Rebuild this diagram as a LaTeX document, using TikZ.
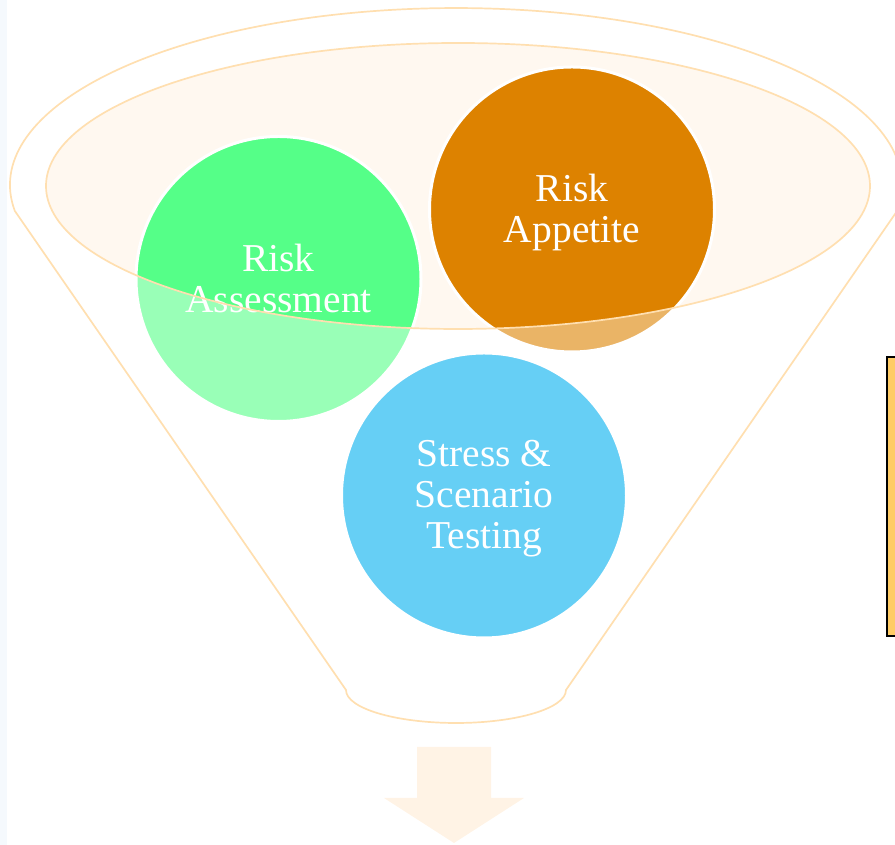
\documentclass[tikz,border=0pt]{standalone}
\usepackage{fontspec}
\setmainfont{Liberation Serif}
\definecolor{funnelline}{HTML}{FFDFB0}
\definecolor{rimfill}{HTML}{FFF8F0}
\definecolor{assessgreen}{HTML}{55FF88}
\definecolor{appetiteorange}{HTML}{DD8200}
\definecolor{stresscyan}{HTML}{00AFEF}
\definecolor{arrowpeach}{HTML}{FFF3E5}
\definecolor{boxyellow}{HTML}{FFCC66}
\definecolor{edgestrip}{HTML}{F5F9FD}
\begin{document}
\begin{tikzpicture}[x=1pt,y=1pt,
  bubble/.style={circle, draw=white, line width=3pt, minimum size=285pt,
    inner sep=0pt},
  bubbletext/.style={text=white, align=center, inner sep=0pt,
    font=\fontsize{39.5}{41}\selectfont},
  outline/.style={draw=funnelline, line width=1.7pt},
  veil/.style={fill=white, fill opacity=0.4, even odd rule}]
\useasboundingbox (0,0) rectangle (895,845);
\clip (0,0) rectangle (895,845);

% faint strip on the left edge
\fill[edgestrip] (0,0) rectangle (7,845);

% mouth of the funnel
\fill[rimfill] (458,659) ellipse [x radius=412, y radius=143];

% the three bubbles
\node[bubble, fill=assessgreen] (assess) at (278.5,566) {};
\node[bubble, fill=appetiteorange] (appetite) at (572,635.5) {};
\node[bubble, fill=stresscyan] (stress) at (484,349.5) {};

\node[bubbletext] (assess-text) at (assess.center) {Risk\\Assessment};
\node[bubbletext] (appetite-text) at ([yshift=-3pt]appetite.center) {Risk\\Appetite};
\node[bubbletext] (stress-text) at ([yshift=-3.5pt]stress.center) {Stress \&\\Scenario\\Testing};

% translucent funnel body with the mouth left open
\fill[veil]
  (14.8,634.1) arc[start angle=188.4, end angle=-8.4, x radius=446, y radius=177]
  -- (566,155) arc[start angle=0, end angle=-180, x radius=110, y radius=33]
  -- cycle
  (458,659) ellipse [x radius=412, y radius=143];

% funnel outlines
\draw[outline]
  (14.8,634.1) arc[start angle=188.4, end angle=-8.4, x radius=446, y radius=177]
  -- (566,155) arc[start angle=0, end angle=-180, x radius=110, y radius=33]
  -- cycle;
\draw[outline] (458,659) ellipse [x radius=412, y radius=143];

% output arrow below the funnel
\fill[arrowpeach] (417,98) -- (491,98) -- (491,47) -- (524,47) -- (454,2)
  -- (384,47) -- (417,47) -- cycle;

% box on the right
\draw[fill=boxyellow, line width=2.3pt] (887,209.3) rectangle (905,488);
\end{tikzpicture}
\end{document}
